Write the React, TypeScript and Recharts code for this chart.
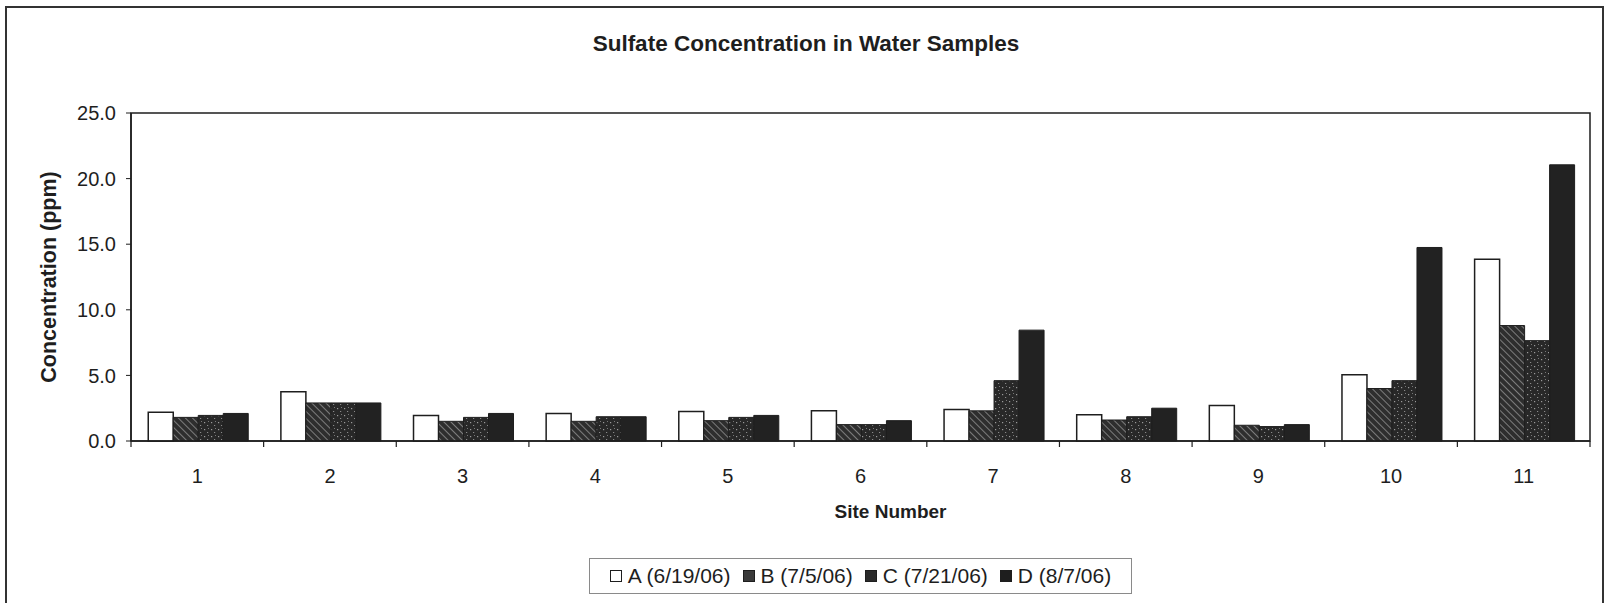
import { BarChart, Bar, XAxis, YAxis, Legend, ReferenceArea } from 'recharts';

const sites = ['1', '2', '3', '4', '5', '6', '7', '8', '9', '10', '11'];
const sampleA = [2.2, 3.75, 1.95, 2.1, 2.25, 2.3, 2.4, 2.0, 2.7, 5.05, 13.85];
const sampleB = [1.8, 2.9, 1.5, 1.5, 1.55, 1.25, 2.3, 1.6, 1.2, 4.0, 8.8];
const sampleC = [1.95, 2.9, 1.8, 1.85, 1.8, 1.25, 4.6, 1.85, 1.1, 4.6, 7.65];
const sampleD = [2.1, 2.9, 2.1, 1.85, 1.95, 1.55, 8.45, 2.5, 1.25, 14.75, 21.05];
const seriesNames = ['A (6/19/06)', 'B (7/5/06)', 'C (7/21/06)', 'D (8/7/06)'];
const yTicks = [0, 5, 10, 15, 20, 25];

const data = sites.map((site, i) => ({
  site,
  A: sampleA[i],
  B: sampleB[i],
  C: sampleC[i],
  D: sampleD[i],
}));

const FONT = '"Liberation Sans", Arial, sans-serif';
const INK = '#1e1e1e';
const X_TICK_SIZE = 6;
const X_TICK_MARGIN = 22;

const legendFills = ['#ffffff', '#3a3a3a', '#2a2a2a', '#1e1e1e'];

// ticks sit between the site groups, like the excel original
function SiteTick(props: any) {
  const { x, y, payload, index, width } = props;
  const axisY = y - X_TICK_SIZE - X_TICK_MARGIN;
  const half = payload.offset ?? (width ? width / sites.length / 2 : 0);
  return (
    <g>
      <line x1={x - half} x2={x - half} y1={axisY} y2={axisY + X_TICK_SIZE} stroke={INK} strokeWidth={1.2} />
      {index === sites.length - 1 && (
        <line x1={x + half} x2={x + half} y1={axisY} y2={axisY + X_TICK_SIZE} stroke={INK} strokeWidth={1.2} />
      )}
      <text x={x} y={y} dy="0.71em" textAnchor="middle" fill={INK} fontSize={20} fontFamily={FONT}>
        {payload.value}
      </text>
    </g>
  );
}

function SampleLegend() {
  return (
    <div
      style={{
        display: 'flex',
        alignItems: 'center',
        justifyContent: 'center',
        boxSizing: 'border-box',
        height: 36,
        border: '1px solid #8a8a8a',
        fontFamily: FONT,
        fontSize: 21,
        color: INK,
        whiteSpace: 'nowrap',
      }}
    >
      {seriesNames.map((name, i) => (
        <span key={name} style={{ display: 'flex', alignItems: 'center', marginRight: i < 3 ? 12 : 0 }}>
          <span
            style={{
              display: 'inline-block',
              width: 12,
              height: 12,
              boxSizing: 'border-box',
              border: `1.5px solid ${INK}`,
              background: legendFills[i],
              marginRight: 6,
            }}
          />
          {name}
        </span>
      ))}
    </div>
  );
}

export default function App() {
  return (
    <div style={{ position: 'fixed', left: 0, top: 0, width: 1606, height: 603, overflow: 'hidden', background: '#fff' }}>
      <div
        style={{
          position: 'absolute',
          left: 5,
          top: 6,
          width: 1595,
          height: 660,
          border: '2px solid #333',
        }}
      />
      <div
        style={{
          position: 'absolute',
          left: 3,
          top: 29,
          width: 1606,
          height: 30,
          lineHeight: '30px',
          textAlign: 'center',
          fontFamily: FONT,
          fontWeight: 'bold',
          fontSize: 22.5,
          color: INK,
        }}
      >
        Sulfate Concentration in Water Samples
      </div>
      <div style={{ position: 'absolute', left: 0, top: 0 }}>
        <BarChart
          width={1606}
          height={603}
          data={data}
          margin={{ top: 113, right: 16, left: 0, bottom: 9 }}
          barGap={0}
          barCategoryGap="13%"
        >
          <defs>
            <pattern id="hatchB" width="5" height="5" patternUnits="userSpaceOnUse" patternTransform="rotate(-45)">
              <rect width="5" height="5" fill="#2e2e2e" />
              <line x1="0" y1="0" x2="0" y2="5" stroke="#a8a8a8" strokeWidth="1.3" />
            </pattern>
            <pattern id="speckC" width="7" height="7" patternUnits="userSpaceOnUse">
              <rect width="7" height="7" fill="#282828" />
              <rect x="1" y="2" width="1.2" height="1.2" fill="#9a9a9a" />
              <rect x="4" y="5" width="1.2" height="1" fill="#8a8a8a" />
              <rect x="5" y="1" width="1" height="1" fill="#777" />
            </pattern>
          </defs>
          <XAxis
            dataKey="site"
            height={117}
            axisLine={{ stroke: INK, strokeWidth: 1.5 }}
            tickLine={false}
            tickSize={X_TICK_SIZE}
            tickMargin={X_TICK_MARGIN}
            tick={<SiteTick />}
            interval={0}
            label={{
              value: 'Site Number',
              position: 'insideBottom',
              offset: 40,
              dx: 30,
              style: { fontFamily: FONT, fontWeight: 'bold', fontSize: 19, fill: INK },
            }}
          />
          <YAxis
            width={131}
            domain={[0, 25]}
            ticks={yTicks}
            interval={0}
            tickFormatter={(v: number) => v.toFixed(1)}
            axisLine={{ stroke: INK, strokeWidth: 1.5 }}
            tickLine={{ stroke: INK }}
            tickSize={5}
            tickMargin={10}
            tick={{ fill: INK, fontSize: 20, fontFamily: FONT }}
            label={{
              value: 'Concentration (ppm)',
              angle: -90,
              position: 'insideLeft',
              offset: 48,
              style: { textAnchor: 'middle', fontFamily: FONT, fontWeight: 'bold', fontSize: 21.5, fill: INK },
            }}
          />
          <ReferenceArea y1={0} y2={25} fill="none" stroke={INK} strokeWidth={1.5} />
          <Legend
            verticalAlign="bottom"
            content={<SampleLegend />}
            wrapperStyle={{ left: 589, bottom: 9, width: 543 }}
          />
          <Bar dataKey="A" name={seriesNames[0]} fill="#ffffff" stroke={INK} strokeWidth={1.5} isAnimationActive={false} />
          <Bar dataKey="B" name={seriesNames[1]} fill="url(#hatchB)" stroke={INK} strokeWidth={1} isAnimationActive={false} />
          <Bar dataKey="C" name={seriesNames[2]} fill="url(#speckC)" stroke={INK} strokeWidth={1} isAnimationActive={false} />
          <Bar dataKey="D" name={seriesNames[3]} fill="#222222" stroke={INK} strokeWidth={1} isAnimationActive={false} />
        </BarChart>
      </div>
    </div>
  );
}
